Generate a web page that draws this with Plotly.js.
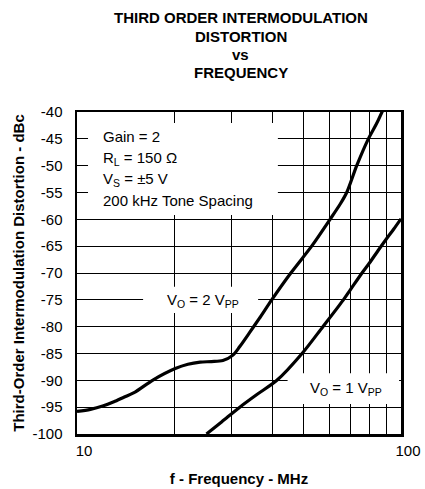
<!DOCTYPE html>
<html>
<head>
<meta charset="utf-8">
<script src="https://cdn.plot.ly/plotly-3.0.1.min.js"></script>
<style>
html, body { margin: 0; padding: 0; background: #ffffff; }
#chart { width: 425px; height: 489px; }
</style>
</head>
<body>
<div id="chart"></div>
<script>
// Data
const titleLines = ["THIRD ORDER INTERMODULATION", "DISTORTION", "vs", "FREQUENCY"];
const xAxisTitle = "f - Frequency - MHz";
const yAxisTitle = "Third-Order Intermodulation Distortion - dBc";

// V_O = 2 V_PP curve
const freq2 = [10, 11, 12, 13, 14, 15, 17.2, 20.1, 22, 24, 26, 28.2, 30.3, 31.8, 34, 36.5, 39.9, 45.7, 53, 60.4, 65, 68.1, 73, 79.3, 84, 88];
const imd2 = [-95.8, -95.4, -94.8, -94.0, -93.1, -92.3, -89.9, -87.8, -87.0, -86.6, -86.5, -86.3, -85.3, -83.7, -81.2, -78.5, -75, -70, -65, -60, -57.1, -54.9, -50, -45, -42.2, -39.6];

// V_O = 1 V_PP curve
const freq1 = [25.1, 28, 31.8, 36, 41.4, 49.5, 57.4, 66.4, 70, 75.8, 80, 85, 90, 95, 100];
const imd1 = [-100, -97.7, -95, -92.6, -90, -85, -80, -75, -73, -70, -68.1, -65.8, -63.7, -61.8, -59.9];

// Axis ticks
const xTickVals = [10, 20, 30, 40, 50, 60, 70, 80, 90, 100];
const xTickText = ["10", "", "", "", "", "", "", "", "", "100"];
const yTickVals = [-100, -95, -90, -85, -80, -75, -70, -65, -60, -55, -50, -45, -40];
const yTickText = ["-100", "-95", "-90", "-85", "-80", "-75", "-70", "-65", "-60", "-55", "-50", "-45", "-40"];

// Annotation texts
const conditionLines = ["Gain = 2", "R<sub>L</sub> = 150 \u03A9", "V<sub>S</sub> = \u00B15 V", "200 kHz Tone Spacing"];
const label2 = "V<sub>O</sub> = 2 V<sub>PP</sub>";
const label1 = "V<sub>O</sub> = 1 V<sub>PP</sub>";

const FONT = "Liberation Sans, Arial, Helvetica, sans-serif";

const traces = [
  { x: freq2, y: imd2, type: "scatter", mode: "lines",
    line: { color: "#000000", width: 3.2, shape: "spline", smoothing: 0.8 }, hoverinfo: "skip" },
  { x: freq1, y: imd1, type: "scatter", mode: "lines",
    line: { color: "#000000", width: 3.2, shape: "spline", smoothing: 0.8 }, hoverinfo: "skip" }
];

const annotations = [];
const titleY = [1.295, 1.236, 1.180, 1.124];
titleLines.forEach((t, i) => annotations.push({
  text: t, xref: "paper", yref: "paper", x: 0.506, y: titleY[i],
  xanchor: "center", yanchor: "middle", showarrow: false,
  font: { family: FONT, size: 15, color: "#000000", weight: "bold" }
}));
const condY = [0.923, 0.857, 0.789, 0.7245];
conditionLines.forEach((t, i) => annotations.push({
  text: t, xref: "paper", yref: "paper", x: 0.073, y: condY[i],
  xanchor: "left", yanchor: "middle", showarrow: false,
  font: { family: FONT, size: 15, color: "#000000" }
}));
annotations.push({
  text: label2, xref: "paper", yref: "paper", x: 0.389, y: 0.416,
  xanchor: "center", yanchor: "middle", showarrow: false,
  font: { family: FONT, size: 15, color: "#000000" }
});
annotations.push({
  text: label1, xref: "paper", yref: "paper", x: 0.829, y: 0.140,
  xanchor: "center", yanchor: "middle", showarrow: false,
  font: { family: FONT, size: 15, color: "#000000" }
});

const whiteBox = (x0, x1, y0, y1) => ({
  type: "rect", xref: "paper", yref: "paper", x0: x0, x1: x1, y0: y0, y1: y1,
  fillcolor: "#ffffff", line: { width: 0 }, layer: "above"
});

const layout = {
  width: 425, height: 489,
  paper_bgcolor: "#ffffff", plot_bgcolor: "#ffffff",
  margin: { l: 77, r: 24, t: 112, b: 55, pad: 0 },
  showlegend: false,
  font: { family: FONT, size: 15, color: "#000000" },
  xaxis: {
    type: "log", range: [1, 2],
    tickmode: "array", tickvals: xTickVals, ticktext: xTickText,
    ticks: "", showgrid: true, gridcolor: "#000000", gridwidth: 1,
    showline: true, linecolor: "#000000", linewidth: 2.5, mirror: true,
    zeroline: false, ticklabelshift: 7, ticklabelstandoff: 1,
    tickfont: { family: FONT, size: 15, color: "#000000" },
    title: { text: xAxisTitle, standoff: 16,
      font: { family: FONT, size: 15, color: "#000000", weight: "bold" } },
    automargin: false
  },
  yaxis: {
    range: [-100, -40],
    tickmode: "array", tickvals: yTickVals, ticktext: yTickText,
    ticks: "", showgrid: true, gridcolor: "#000000", gridwidth: 1,
    showline: true, linecolor: "#000000", linewidth: 2.5, mirror: true,
    zeroline: false, ticklabelstandoff: 9,
    tickfont: { family: FONT, size: 15, color: "#000000" },
    title: { text: yAxisTitle, standoff: 4,
      font: { family: FONT, size: 15, color: "#000000", weight: "bold" } },
    automargin: false
  },
  shapes: [
    whiteBox(0.034, 0.620, 0.680, 0.966),
    whiteBox(0.204, 0.559, 0.376, 0.457),
    whiteBox(0.650, 0.994, 0.093, 0.189)
  ],
  annotations: annotations
};

Plotly.newPlot("chart", traces, layout, { staticPlot: true, displayModeBar: false });
</script>
</body>
</html>
